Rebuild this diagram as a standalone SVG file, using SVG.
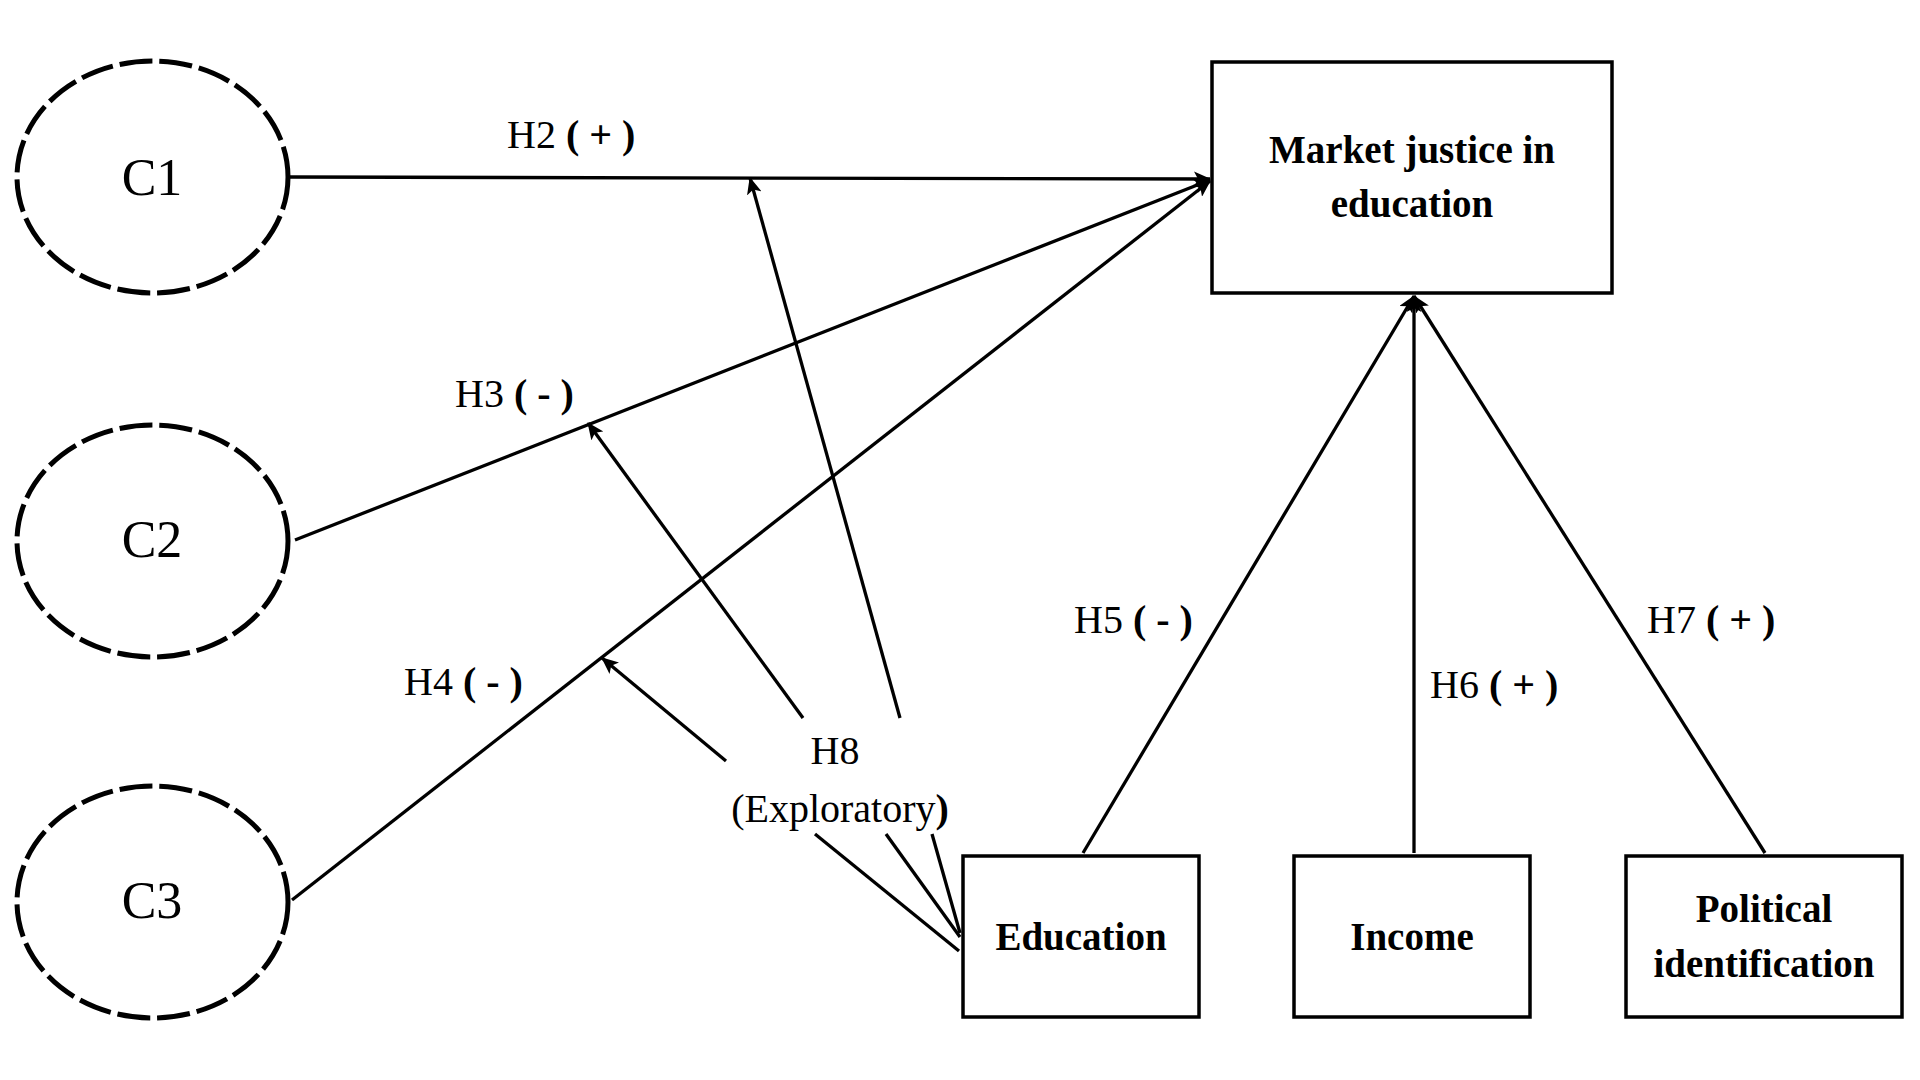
<svg xmlns="http://www.w3.org/2000/svg" width="1920" height="1080" viewBox="0 0 1920 1080">
<defs>
<marker id="arr" markerUnits="userSpaceOnUse" markerWidth="17" markerHeight="15" viewBox="0 0 17 15" refX="16" refY="7.5" orient="auto">
<path d="M0,0 L17,7.5 L0,15 L4,7.5 z" fill="#000"/>
</marker>
<style>
.lat{fill:#fff;stroke:#000;stroke-width:5;stroke-dasharray:33 7}
.box{fill:#fff;stroke:#000;stroke-width:3.5}
.ln{stroke:#000;stroke-width:3.3;fill:none}
.ar{stroke:#000;stroke-width:3.3;fill:none;marker-end:url(#arr)}
.cl{font-family:"Liberation Serif","Times New Roman",serif;font-size:52px;fill:#000;text-anchor:middle}
.bl{font-family:"Liberation Serif","Times New Roman",serif;font-size:39px;font-weight:bold;fill:#000;text-anchor:middle}
.hl{font-family:"Liberation Serif","Times New Roman",serif;font-size:40px;fill:#000}
.b{font-weight:bold}
</style>
</defs>
<rect width="1920" height="1080" fill="#fff"/>
<g id="connectors">
<line class="ar" x1="288" y1="177" x2="1210" y2="179"/>
<line class="ar" x1="295" y1="540" x2="1210" y2="180"/>
<line class="ar" x1="292" y1="900" x2="1210" y2="181"/>
<line class="ar" x1="900" y1="718" x2="750" y2="178"/>
<line class="ar" x1="803" y1="718" x2="588" y2="423"/>
<line class="ar" x1="726" y1="761" x2="602" y2="658"/>
<line class="ln" x1="815" y1="834" x2="959" y2="951"/>
<line class="ln" x1="886" y1="834" x2="960" y2="937"/>
<line class="ln" x1="932" y1="834" x2="960" y2="933"/>
<line class="ar" x1="1083" y1="853" x2="1414" y2="296"/>
<line class="ar" x1="1414" y1="853" x2="1414" y2="296"/>
<line class="ar" x1="1765" y1="853" x2="1414" y2="296"/>
</g>
<g id="C1"><ellipse class="lat" cx="152.5" cy="177" rx="135.5" ry="116"/><text class="cl" x="152" y="195">C1</text></g>
<g id="C2"><ellipse class="lat" cx="152.5" cy="541" rx="135.5" ry="116"/><text class="cl" x="152" y="557">C2</text></g>
<g id="C3"><ellipse class="lat" cx="152.5" cy="902" rx="135.5" ry="116"/><text class="cl" x="152" y="918">C3</text></g>
<g id="market"><rect class="box" x="1212" y="62" width="400" height="231"/><text class="bl" x="1412" y="163">Market justice in</text><text class="bl" x="1412" y="217">education</text></g>
<g id="education"><rect class="box" x="963" y="856" width="236" height="161"/><text class="bl" x="1081" y="950">Education</text></g>
<g id="income"><rect class="box" x="1294" y="856" width="236" height="161"/><text class="bl" x="1412" y="950">Income</text></g>
<g id="political"><rect class="box" x="1626" y="856" width="276" height="161"/><text class="bl" x="1764" y="922">Political</text><text class="bl" x="1764" y="977">identification</text></g>
<g id="labels">
<text class="hl" x="507" y="148">H2 <tspan class="b">( + )</tspan></text>
<text class="hl" x="455" y="407">H3 <tspan class="b">( - )</tspan></text>
<text class="hl" x="404" y="695">H4 <tspan class="b">( - )</tspan></text>
<text class="hl" x="1074" y="633">H5 <tspan class="b">( - )</tspan></text>
<text class="hl" x="1430" y="698">H6 <tspan class="b">( + )</tspan></text>
<text class="hl" x="1647" y="633">H7 <tspan class="b">( + )</tspan></text>
<text class="hl" x="835" y="764" text-anchor="middle">H8</text>
<text class="hl" x="840" y="822" text-anchor="middle">(Exploratory<tspan class="b">)</tspan></text>
</g>
</svg>
